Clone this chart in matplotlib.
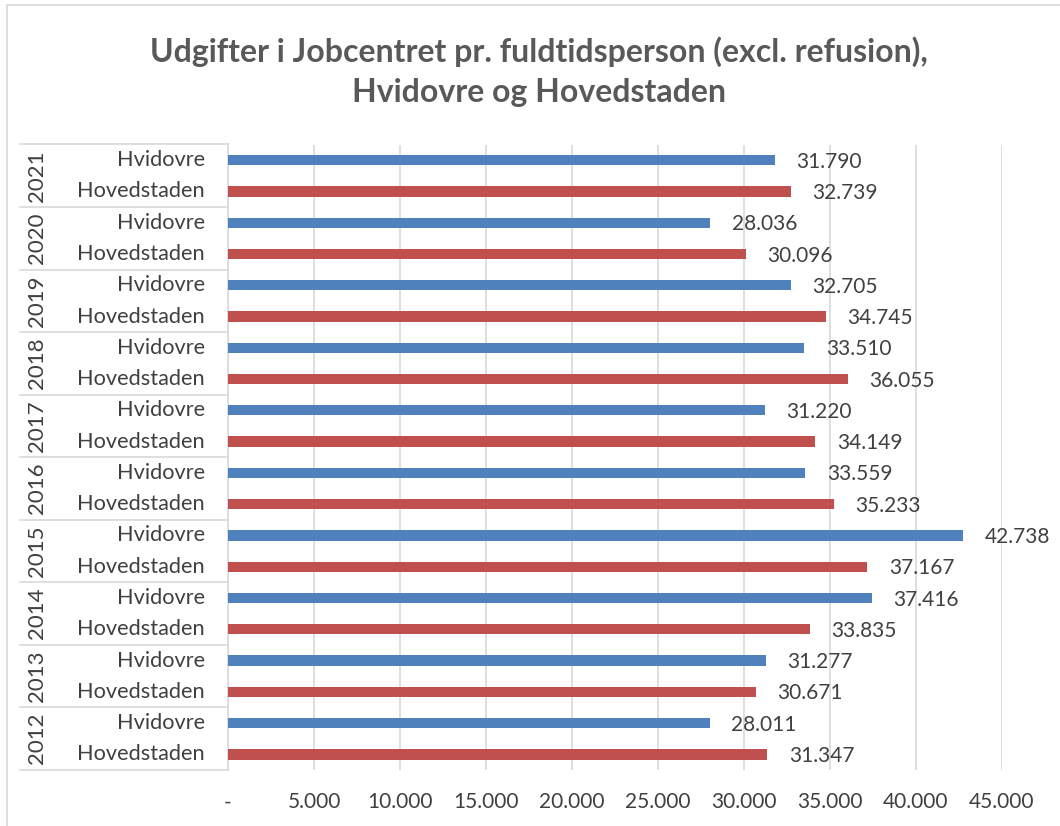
import matplotlib
matplotlib.use("Agg")
from matplotlib import pyplot as plt
from matplotlib.lines import Line2D
import matplotlib.transforms as mtransforms
import numpy as np

years = [2012, 2013, 2014, 2015, 2016, 2017, 2018, 2019, 2020, 2021]
hvidovre = [28011, 31277, 37416, 42738, 33559, 31220, 33510, 32705, 28036, 31790]
hovedstaden = [31347, 30671, 33835, 37167, 35233, 34149, 36055, 34745, 30096, 32739]
series_names = ["Hovedstaden", "Hvidovre"]
title = "Udgifter i Jobcentret pr. fuldtidsperson (excl. refusion),\nHvidovre og Hovedstaden"

blue = "#4F81BD"
red = "#C0504D"
grid_col = "#D9D9D9"
txt = "#404040"

plt.rcParams['font.family'] = ['Lato', 'DejaVu Sans']

W, H = 1060, 826
fig = plt.figure(figsize=(W / 100, H / 100), dpi=100)
ax = fig.add_axes([228 / W, 1 - 770 / H, (1002 - 228) / W, (770 - 144.5) / H])

def fmt(v):
    return "{:,}".format(v).replace(",", ".")

n = len(years)
y_hov = np.arange(n) * 2
y_hvi = np.arange(n) * 2 + 1
bh = 0.33
ax.barh(y_hov, hovedstaden, height=bh, color=red, zorder=3)
ax.barh(y_hvi, hvidovre, height=bh, color=blue, zorder=3)

for yy, v in zip(y_hov, hovedstaden):
    ax.text(v + 1250, yy - 0.05, fmt(v), va="center", ha="left", fontsize=15, color=txt)
for yy, v in zip(y_hvi, hvidovre):
    ax.text(v + 1250, yy - 0.05, fmt(v), va="center", ha="left", fontsize=15, color=txt, clip_on=False)

ax.set_xlim(0, 45000)
ax.set_ylim(-0.5, 2 * n - 0.5)
ticks = np.arange(0, 45001, 5000)
ax.set_xticks(ticks)
ax.set_xticklabels(["-"] + [fmt(t) for t in ticks[1:]], fontsize=15, color=txt)
ax.tick_params(axis="x", length=0, pad=16)
ax.set_yticks([])
ax.grid(axis="x", color=grid_col, linewidth=1.2, zorder=0)
for s in ["top", "right", "bottom"]:
    ax.spines[s].set_visible(False)
ax.spines["left"].set_color(grid_col)
ax.spines["left"].set_linewidth(1.2)

# multi-level category axis
trans = mtransforms.blended_transform_factory(fig.transFigure, ax.transData)
for i, yr in enumerate(years):
    ax.text(205 / W, y_hvi[i], series_names[1], transform=trans, ha="right", va="center",
            fontsize=15.7, color=txt)
    ax.text(205 / W, y_hov[i], series_names[0], transform=trans, ha="right", va="center",
            fontsize=15.7, color=txt)
    ax.text(37 / W, y_hov[i] + 0.5, str(yr), transform=trans, ha="center", va="center",
            rotation=90, fontsize=16, color=txt)
for b in np.arange(n + 1) * 2 - 0.5:
    fig.add_artist(Line2D([20 / W, 228 / W], [b, b], transform=trans, color=grid_col,
                          linewidth=1.2, clip_on=False))

fig.text(539 / W, 1 - 72 / H, title, ha="center", va="center", fontsize=23,
         fontweight="bold", color="#595959", linespacing=1.45)

# chart border
fig.add_artist(Line2D([7 / W, 7 / W], [0, 1 - 5 / H], transform=fig.transFigure, color=grid_col, linewidth=1.2))
fig.add_artist(Line2D([7 / W, 1], [1 - 5 / H, 1 - 5 / H], transform=fig.transFigure, color=grid_col, linewidth=1.2))

fig.savefig("out.png", dpi=100)
